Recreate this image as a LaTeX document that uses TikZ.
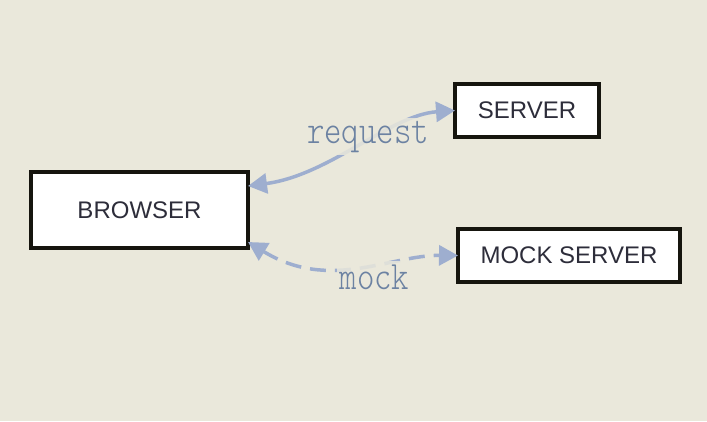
\documentclass[tikz,border=0pt]{standalone}
\usepackage{fontspec}
\usepackage{graphicx}
\setmainfont{Liberation Sans}
\newfontfamily\lblfont{Latin Modern Mono Light}
\usetikzlibrary{arrows.meta}
\definecolor{bgc}{RGB}{234,232,219}
\definecolor{edgec}{RGB}{158,174,207}
\definecolor{labc}{RGB}{108,130,162}
\definecolor{boxc}{RGB}{22,21,14}
\definecolor{txtc}{RGB}{45,45,58}
\newcommand{\lbltext}[1]{\scalebox{1.07}[1.3]{\lblfont\fontsize{31bp}{34bp}\selectfont #1}}
\begin{document}
\begin{tikzpicture}[x=1bp,y=-1bp,
  box/.style={draw=boxc,fill=white,line width=4bp,outer sep=0pt,inner sep=0pt,
    font=\fontsize{24bp}{27bp}\selectfont,text=txtc},
  conn/.style={draw=edgec,line width=3.5bp,{Triangle[length=19bp,width=20bp]}-{Triangle[length=19bp,width=20bp]}},
  elabel/.style={fill=bgc,fill opacity=0.85,text opacity=1,text=labc,inner sep=3bp}
]
\useasboundingbox[fill=bgc] (0,0) rectangle (707,421);
\node[box,minimum width=217bp,minimum height=76bp] (b) at (139.5,210) {BROWSER};
\node[box,minimum width=144bp,minimum height=53bp] (s) at (527,110.5) {SERVER};
\node[box,minimum width=222bp,minimum height=53bp] (m) at (569,255.5) {MOCK SERVER};
\draw[conn] ([yshift=-14bp]b.north east) .. controls (330,175) and (390,115) .. (s.west);
\draw[conn,dash pattern=on 16bp off 9bp] ([yshift=6bp]b.south east) .. controls (330,292) and (390,255) .. (m.west);
\node[elabel,anchor=base] (lr) at (368,143) {\lbltext{request}};
\node[elabel,anchor=base] (lm) at (374.5,289) {\lbltext{mock}};
\end{tikzpicture}
\end{document}
